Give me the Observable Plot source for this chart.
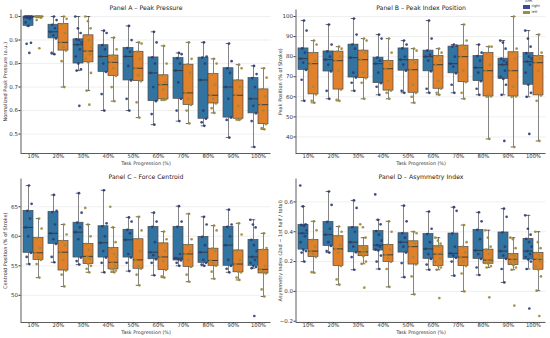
<!DOCTYPE html>
<html><head><meta charset="utf-8">
<script src="https://cdn.jsdelivr.net/npm/d3@7"></script>
<script src="https://cdn.jsdelivr.net/npm/@observablehq/plot@0.6"></script>
<style>
body{margin:0;background:#fff;}
#grid{position:relative;width:550px;height:338px;overflow:hidden;font-family:"DejaVu Sans",sans-serif;}
.panel{position:absolute;}
#legend{position:absolute;left:523px;top:0px;font-size:3.6px;color:#333;line-height:1;}
#legend .t{margin-left:2px;margin-bottom:0.6px;}
#legend .row{display:flex;align-items:center;height:5.6px;}
#legend .sw{width:7px;height:3.2px;margin-right:1.5px;}
</style></head><body><div id="grid"></div>
<script>
const categories = ["10%","20%","30%","40%","50%","60%","70%","80%","90%","100%"];
const arms = ["right","left"];

const pressureRight = [
 [0.845,0.884,0.888,0.96,0.975,0.99,0.995,1.0,1.0,1.0,1.0,1.0,1.0],
 [0.84,0.845,0.907,0.92,0.935,0.95,0.965,0.985,1.0],
 [0.62,0.77,0.775,0.80,0.83,0.86,0.88,0.89,0.90,0.903,0.93,0.95,1.0],
 [0.60,0.67,0.764,0.80,0.83,0.86,0.878,0.93,0.94],
 [0.60,0.65,0.728,0.79,0.83,0.85,0.866,0.90,0.96],
 [0.54,0.585,0.64,0.70,0.76,0.80,0.826,0.89,0.935],
 [0.555,0.60,0.65,0.72,0.77,0.80,0.823,0.84,0.845],
 [0.535,0.55,0.565,0.60,0.73,0.80,0.825,0.83,0.89],
 [0.485,0.56,0.57,0.65,0.70,0.76,0.78,0.81,0.885],
 [0.445,0.555,0.588,0.62,0.65,0.70,0.738,0.755,0.79]
];
const pressureLeft = [
 [0.865,0.985,0.995,1.0,1.0,1.0,1.0,1.0,1.0,1.0],
 [0.70,0.81,0.855,0.87,0.89,0.93,0.968,0.99,1.0],
 [0.625,0.685,0.76,0.805,0.82,0.84,0.853,0.87,0.90,0.92,0.95,0.98,1.0],
 [0.64,0.70,0.747,0.78,0.805,0.82,0.834,0.86,0.91],
 [0.57,0.635,0.725,0.75,0.78,0.82,0.85,0.885,0.89],
 [0.645,0.645,0.648,0.69,0.71,0.72,0.75,0.80,0.875],
 [0.545,0.60,0.624,0.65,0.675,0.76,0.795,0.82,0.89],
 [0.59,0.61,0.63,0.65,0.665,0.71,0.755,0.80,0.82],
 [0.56,0.562,0.565,0.62,0.665,0.70,0.728,0.78,0.795],
 [0.52,0.525,0.542,0.60,0.625,0.66,0.69,0.74,0.78]
];
const positionRight = [
 [58,68.5,73.4,77,79,82,84.1,93,98],
 [59,63,72.6,76,78.5,80,82.6,86,96],
 [63,67,69.6,72,79.5,84,86,91,99],
 [61,65,66.8,72,76.5,78,79.5,89,91],
 [62,63,73,76,78.5,80,84.1,86,88],
 [62,64,72.7,78,80,81,83,89,98],
 [62,66,71.7,75,76.5,80,85,85.5,86],
 [61,64,67.8,72,74.5,78,80.3,82,86],
 [38,61,66,68.9,70,73,76,77,78,79,84,87,88],
 [41.5,60,62,66,72,76,77.5,79,80,81.8,85,89,93]
];
const positionLeft = [
 [57,58,61.2,65,76.5,78,81.8,86,88],
 [58,58.5,63.6,73,78,80,82.5,84,85],
 [59,67,69.3,72,78.5,82,83,88,89],
 [59,62,63.1,68,74,76,77.9,82,89],
 [57,60,62,66,73.5,77,78.3,83,84],
 [61,62,64,68,76,78,80.3,82,84],
 [59,62,67.3,73,80,84,85.5,88,96],
 [39,60,60.2,61,73,76,81.8,85,85],
 [35,60,60.2,65,73,79,82.2,84,100],
 [38,58,60.7,73,77,79,80.3,82,91]
];
const centroidRight = [
 [55.3,56.5,57.2,60,61.5,63,64.3,65.5,68.6],
 [55.6,56.5,58.7,59.5,60.5,62,64.1,64.3,67],
 [55.2,55.8,56.4,59.5,60.7,61.5,62.3,64,67.3],
 [53.9,55.5,56.4,57.5,58.9,60,61.7,62.2,67.8],
 [54.1,55.5,56.4,57,59.4,60.5,61.1,62.5,63.2],
 [53.4,55.5,56.1,56.8,57.3,59,61.6,62.5,64],
 [55,55.5,55.9,56.1,56.3,57,61.6,62.5,65.1],
 [55,55.2,55.5,56,57.3,58.5,59.9,62,63.3],
 [53.9,54.5,55,56,58.5,60,61.6,62,64.5],
 [46.5,54.6,54.8,55,55.5,56,56.5,57.5,58.5,59.4,61.5,62,62.8]
];
const centroidLeft = [
 [53,55.3,56,56.5,57.2,58,59.7,61.3,63],
 [51.5,53.5,54.2,56,57.3,58.5,59.2,60.3,62],
 [53.9,54.5,55,55.3,55.8,56.2,56.6,57,57.7,58.7,60,62,64.8],
 [53.9,54,54.2,54.4,54.5,55,55.6,56.5,57,58,59,61.5,65],
 [51.7,53.5,54.5,55,56,57.5,59.5,61,63.3],
 [53,53.2,54.3,55.8,56.5,57.5,58.8,59.5,60.8],
 [52.3,53.5,54.8,56,57,57.5,58.5,59.5,63.8],
 [52.8,54,55,55.5,55.9,57.5,57.9,61,61.8],
 [52.6,53,53.9,54,55.3,56,57.6,60.3,62.2],
 [49.8,51,53.7,54,54.4,55,57.7,58,60.5]
];
const asymmetryRight = [
 [0.2,0.26,0.27,0.28,0.33,0.37,0.39,0.41,0.44,0.446,0.45,0.57,0.71],
 [0.26,0.27,0.305,0.33,0.38,0.42,0.466,0.58,0.67],
 [0.145,0.23,0.262,0.30,0.33,0.40,0.43,0.56,0.61],
 [0.15,0.2,0.24,0.274,0.28,0.3,0.31,0.34,0.38,0.405,0.45,0.48,0.65],
 [0.095,0.19,0.26,0.30,0.33,0.36,0.39,0.47,0.575],
 [0.145,0.18,0.218,0.25,0.285,0.33,0.385,0.42,0.535],
 [0.105,0.2,0.225,0.24,0.255,0.3,0.388,0.54,0.565],
 [0.11,0.16,0.218,0.25,0.275,0.35,0.412,0.47,0.53],
 [0.06,0.15,0.218,0.24,0.27,0.3,0.395,0.5,0.555],
 [-0.115,0.15,0.2,0.213,0.23,0.25,0.27,0.3,0.33,0.352,0.38,0.42,0.51]
];
const asymmetryLeft = [
 [0.125,0.13,0.23,0.25,0.27,0.3,0.345,0.41,0.47],
 [0.045,0.08,0.17,0.26,0.285,0.31,0.37,0.40,0.435],
 [0.025,0.185,0.2,0.236,0.25,0.26,0.265,0.28,0.29,0.303,0.36,0.43,0.45],
 [0.03,0.15,0.198,0.22,0.245,0.28,0.312,0.40,0.47],
 [-0.02,0.1,0.18,0.23,0.3,0.32,0.336,0.39,0.4],
 [-0.045,0.145,0.16,0.17,0.2,0.22,0.25,0.26,0.3,0.303,0.32,0.34,0.36],
 [0.0,0.12,0.17,0.2,0.23,0.26,0.298,0.33,0.445],
 [-0.04,0.16,0.17,0.185,0.19,0.2,0.21,0.22,0.25,0.28,0.3,0.36,0.41],
 [-0.095,0.145,0.16,0.176,0.19,0.2,0.215,0.22,0.24,0.25,0.29,0.35,0.36],
 [-0.165,0.005,0.1,0.145,0.17,0.2,0.215,0.22,0.24,0.258,0.29,0.33,0.4]
];

const pressureTicks = [0.5,0.6,0.7,0.8,0.9,1.0];
const positionTicks = [40,50,60,70,80,90,100];
const centroidTicks = [50,55,60,65];
const asymmetryTicks = [-0.2,0.0,0.2,0.4,0.6];

const boxColors = ["#3274a1","#e1812c"];
const pointColors = {right:"#2a3d78", left:"#9c8a3a"};

const panels = [
 {title:"Panel A – Peak Pressure", ylabel:"Normalized Peak Pressure (a.u.)", right:pressureRight, left:pressureLeft, ticks:pressureTicks, fmt:d3.format(".1f"), left0:0, top0:0},
 {title:"Panel B – Peak Index Position", ylabel:"Peak Position (% of Stroke)", right:positionRight, left:positionLeft, ticks:positionTicks, fmt:d3.format("d"), left0:275, top0:0},
 {title:"Panel C – Force Centroid", ylabel:"Centroid Position (% of Stroke)", right:centroidRight, left:centroidLeft, ticks:centroidTicks, fmt:d3.format("d"), left0:0, top0:169},
 {title:"Panel D – Asymmetry Index", ylabel:"Asymmetry Index (2nd − 1st half / total)", right:asymmetryRight, left:asymmetryLeft, ticks:asymmetryTicks, fmt:d3.format(".1f"), left0:275, top0:169}
];

const jitter = j => (((j + 1) * 0.6180339887) % 1 - 0.5) * 0.28;
const offsets = {right:-0.2, left:0.2};

function build(p){
  const rows = [], stats = [];
  for (const arm of arms) {
    const groups = arm === "right" ? p.right : p.left;
    groups.forEach((vals, i) => {
      const c = i + offsets[arm];
      vals.forEach((v, j) => rows.push({arm, i, v, x: c + jitter(j)}));
      const s = vals.slice().sort(d3.ascending);
      const q1 = d3.quantileSorted(s, 0.25), med = d3.quantileSorted(s, 0.5), q3 = d3.quantileSorted(s, 0.75);
      const iqr = q3 - q1;
      const lo = d3.min(s.filter(v => v >= q1 - 1.5 * iqr - 1e-9));
      const hi = d3.max(s.filter(v => v <= q3 + 1.5 * iqr + 1e-9));
      stats.push({arm, i, c, q1, med, q3, lo, hi});
    });
  }
  const [mn, mx] = d3.extent(rows, d => d.v);
  const pad = (mx - mn) * 0.05;
  const yDomain = [mn - pad, mx + pad];
  return Plot.plot({
    width: 275, height: 169,
    marginLeft: 20.5, marginRight: 4.5, marginTop: 9.5, marginBottom: 16,
    style: {fontFamily: "DejaVu Sans, sans-serif", fontSize: "5.5px", color: "#333", background: "transparent"},
    x: {domain: [-0.5, 9.5]},
    y: {domain: yDomain},
    color: {domain: arms, range: boxColors},
    marks: [
      Plot.ruleY(p.ticks, {stroke: "#e4e4e4", strokeWidth: 0.6}),
      Plot.ruleX(stats, {x: "c", y1: "lo", y2: "q1", stroke: "#666", strokeWidth: 0.8}),
      Plot.ruleX(stats, {x: "c", y1: "q3", y2: "hi", stroke: "#666", strokeWidth: 0.8}),
      Plot.ruleY(stats, {y: "lo", x1: d => d.c - 0.09, x2: d => d.c + 0.09, stroke: "#444", strokeWidth: 0.8}),
      Plot.ruleY(stats, {y: "hi", x1: d => d.c - 0.09, x2: d => d.c + 0.09, stroke: "#444", strokeWidth: 0.8}),
      Plot.rectY(stats, {x1: d => d.c - 0.2, x2: d => d.c + 0.2, y1: "q1", y2: "q3", fill: "arm", stroke: "#4a4a4a", strokeWidth: 0.7}),
      Plot.ruleY(stats, {y: "med", x1: d => d.c - 0.2, x2: d => d.c + 0.2, stroke: "#333", strokeWidth: 0.9}),
      Plot.dot(rows.filter(d => d.arm === "right"), {x: "x", y: "v", r: 1.35, fill: pointColors.right, fillOpacity: 0.9}),
      Plot.dot(rows.filter(d => d.arm === "left"), {x: "x", y: "v", r: 1.35, fill: pointColors.left, fillOpacity: 0.9}),
      Plot.axisX({ticks: d3.range(categories.length), tickFormat: i => categories[i], tickSize: 1, tickPadding: 0, label: null, fontSize: 5.3}),
      Plot.axisY({ticks: p.ticks, tickFormat: p.fmt, tickSize: 2, tickPadding: 1, label: null, fontSize: 5.5}),
      Plot.ruleX([-0.5], {stroke: "#333", strokeWidth: 0.8}),
      Plot.ruleY([yDomain[0]], {stroke: "#333", strokeWidth: 0.8}),
      Plot.text([p.title], {frameAnchor: "top", dy: -4.5, fontSize: 6.2, fill: "#222"}),
      Plot.text([p.ylabel], {frameAnchor: "left", dx: -15.5, rotate: -90, textAnchor: "middle", fontSize: 5, fill: "#333"}),
      Plot.text(["Task Progression (%)"], {frameAnchor: "bottom", dy: 11.8, fontSize: 4.8, fill: "#333"})
    ]
  });
}

const grid = document.getElementById("grid");
for (const p of panels) {
  const svg = build(p);
  svg.classList.add("panel");
  svg.style.left = p.left0 + "px";
  svg.style.top = p.top0 + "px";
  grid.appendChild(svg);
}
const legend = document.createElement("div");
legend.id = "legend";
legend.innerHTML = `<div class="t">Arm</div>` + arms.map(a =>
  `<div class="row"><div class="sw" style="background:${a === "right" ? "#3b4c96" : "#9a9238"}"></div>${a}</div>`).join("");
grid.appendChild(legend);
</script>
</body></html>
